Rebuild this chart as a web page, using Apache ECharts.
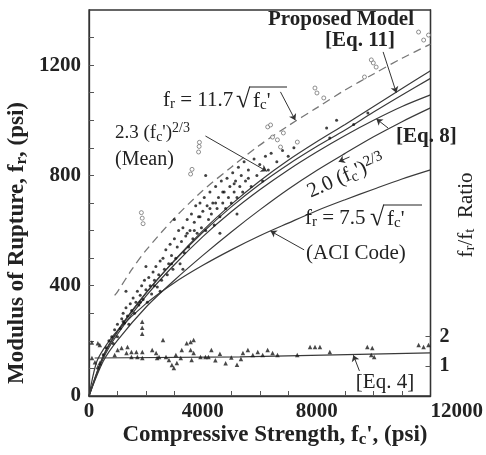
<!DOCTYPE html>
<html><head><meta charset="utf-8">
<script src="https://cdn.jsdelivr.net/npm/echarts@6/dist/echarts.min.js"></script>
<style>html,body{margin:0;padding:0;background:#fff}#c{width:486px;height:455px}</style>
</head><body><div id="c"></div>
<script>
// ---------- DATA ----------
const xTickLabels = [0, 4000, 8000, 12000];
const xMinorTicks = [1000,2000,3000,5000,6000,7000,9000,10000,11000];
const yTickLabels = [0, 400, 800, 1200];
const yMinorTicks = [100,200,300,500,600,700,900,1000,1100,1300];
const ratioTickLabels = [1, 2];

const curveFc   = [0, 500, 1000, 2000, 3000, 4000, 5000, 6000, 7000, 8000, 9000, 10000, 11000, 12000];
const meanCurve = [0, 142, 232, 372, 492, 600, 695, 780, 855, 922, 985, 1050, 1115, 1180];   // 2.3 (fc')^2/3
const eq11Curve = [0, 146, 236, 374, 490, 594, 686, 768, 840, 905, 965, 1030, 1092, 1152];   // Proposed model
const eq8Curve  = [0, 136, 224, 362, 476, 578, 668, 748, 820, 885, 945, 1000, 1050, 1092];   // Eq. 8
const twoCurve  = [0, 126, 202, 322, 420, 510, 595, 675, 750, 818, 880, 940, 995, 1045];     // 2.0 (fc')^2/3

const aciFc     = [0, 250, 500, 1000, 2000, 3000, 4000, 5000, 6000, 7000, 8000, 9000, 10000, 11000, 12000];
const aciCurve  = [0, 118, 168, 237, 335, 411, 474, 530, 581, 627, 672, 712, 750, 787, 820];

const dashFc    = [900, 1000, 1500, 2000, 3000, 4000, 5000, 6000, 7000, 8000, 9000, 10000, 11000, 12000];
const dashCurve = [365, 378, 458, 528, 645, 745, 830, 910, 980, 1045, 1110, 1168, 1225, 1276]; // 11.7 sqrt(fc')

const eq4Fc     = [200, 5300, 12000];
const eq4Ratio  = [1.28, 1.32, 1.45];

const dotPts = [
 [500,150],[600,175],[700,200],[800,215],[850,190],[900,240],[1000,260],[1000,215],[1100,245],[1150,280],
 [1200,300],[1250,265],[1300,320],[1350,290],[1400,260],[1450,335],[1500,310],[1300,380],
 [1550,355],[1600,300],[1650,340],[1700,380],[1750,330],[1800,365],[1850,400],[1900,350],[1950,420],[2000,385],
 [2050,340],[2100,430],[2150,400],[2200,370],[2250,450],[2300,420],[2350,470],[2400,395],[2450,440],[2500,490],[2000,470],
 [2550,420],[2600,500],[2650,460],[2700,530],[2750,440],[2800,480],[2850,550],[2900,510],[2950,460],[3000,570],
 [3050,500],[3100,540],[3150,600],[3200,480],[3250,560],[3300,610],[3350,520],[3400,580],[3450,640],[3500,540],[2500,380],[3300,460],[3000,640],
 [3550,600],[3600,660],[3650,570],[3700,630],[3750,690],[3800,590],[3850,650],[3900,700],[3950,610],[4000,670],
 [4050,720],[4100,600],[4150,690],[4200,640],[4250,740],[4300,660],[4350,700],[4400,620],[4450,760],[4500,680],[4100,800],
 [4550,720],[4600,650],[4650,780],[4700,700],[4750,740],[4800,680],[4850,790],[4900,720],[4950,760],[5000,700],
 [5050,810],[5100,740],[5150,780],[5200,720],[5250,830],[5300,760],[5350,800],[5400,740],[5450,850],[5500,780],[4600,590],[5200,660],
 [5600,820],[5700,760],[5800,860],[5900,800],[6000,840],[6100,780],[6200,870],[6300,820],[6400,880],[6600,850],[6800,890],[7000,870],
 [7200,900],[8350,972],[8460,936],[8700,1000],[9300,985],[9800,1026],
 [3450,590],[3700,600],[3900,650],[4250,680],[4450,700],[4700,740],[5100,770],[5600,790],[2900,480],[2300,400],[1800,340],[1200,270]
];
const circlePts = [
 [1870,645],[1900,625],[1840,665],[3570,805],[3620,822],[3850,885],[3870,905],[3880,920],
 [6280,976],[6380,983],[6450,939],[6620,929],[6730,903],[6830,954],[7320,921],
 [7940,1117],[8010,1099],[8250,1081],[9680,1157],[9920,1219],[9990,1208],[10090,1193],
 [11580,1320],[11760,1291],[11930,1309]
];
const ratioPts = [
 [100,1.8],[104,1.28],[208,1.14],[312,1.78],[381,1.72],[381,1.11],[312,0.98],[902,1.38],
 [1006,1.55],[1144,1.62],[1352,1.65],[1318,1.45],[1491,1.48],[1491,1.31],[1665,1.48],[1700,1.31],[1873,1.48],[1873,1.28],
 [1870,2.5],[1870,2.1],[1870,2.3],
 [2220,1.55],[2358,1.45],[2393,1.28],[2462,1.31],[2705,1.31],[2809,1.21],[2913,1.04],[2983,0.94],[3087,1.11],
 [3052,1.38],[3225,1.28],[3260,1.55],[3433,1.78],[3572,1.82],[3676,1.89],[3572,1.55],[3676,1.45],[3607,1.21],
 [3919,1.31],[4092,1.31],[4196,1.31],[4300,1.55],[2600,1.89],[4440,1.2],[4600,1.42],[4800,1.1],[5000,1.3],[5200,1.05],[5340,1.25],
 [5410,1.45],[5583,1.55],[5757,1.38],[5930,1.48],[6104,1.38],[6277,1.55],[6450,1.45],[6624,1.38],[7317,1.38],
 [7768,1.65],[7942,1.65],[8115,1.65],[8462,1.48],[9780,1.65],[9953,1.62],[9918,1.38],[10022,1.31],
 [11583,1.72],[11757,1.65],[11930,1.72]
];

// ---------- CHART ----------
const serif = '"Liberation Serif","Times New Roman",serif';
const ink = '#222';
const lineCol = '#3a3a3a';
const zip = (xs, ys) => xs.map((x, i) => [x, ys[i]]);

function rich(size, weight) {
  return {
    t:   {fontSize: size, fontFamily: serif, fontWeight: weight, fill: ink},
    sub: {fontSize: Math.round(size*0.72), fontFamily: serif, fontWeight: weight, fill: ink, padding: [9,0,0,0], lineHeight: size+4},
    sup: {fontSize: Math.round(size*0.72), fontFamily: serif, fontWeight: weight, fill: ink, padding: [0,0,9,0], lineHeight: size+4}
  };
}
function txt(x, y, text, size, weight, align, rot) {
  return {type: 'text', x: x, y: y, rotation: rot || 0, z: 100,
    style: {text: text, fontFamily: serif, fontSize: size, fontWeight: weight, fill: ink,
      align: align || 'left', verticalAlign: 'middle', rich: rich(size, weight)}};
}
function oline(x1, x2, y) {
  return {type: 'line', z: 100, shape: {x1: x1, y1: y, x2: x2, y2: y}, style: {stroke: ink, lineWidth: 1}};
}

const axisLabelBase = {fontFamily: serif, fontSize: 21, fontWeight: 'bold', color: ink, formatter: v => String(v)};

const leaders = [
  [[10335,1248],[10800,1100]],
  [[6728,1103],[7250,1000]],
  [[4092,943],[6250,815]],
  [[10508,972],[10100,1005]],
  [[9155,867],[8774,850]],
  [[7560,530],[6380,598]],
  [[9502,91],[9290,148]]
];

const chart = echarts.init(document.getElementById('c'));
chart.setOption({
  animation: false,
  backgroundColor: '#fff',
  grid: {left: 89, right: 51, top: 10, bottom: 59, show: true, borderColor: '#333', borderWidth: 1.3},
  xAxis: {
    type: 'value', min: 0, max: 12000,
    axisLine: {show: true, lineStyle: {color: '#333', width: 1.3}},
    axisTick: {show: true, inside: true, length: 5, customValues: xMinorTicks, lineStyle: {color: '#555'}},
    axisLabel: Object.assign({customValues: xTickLabels, margin: 5, alignMaxLabel: 'left'}, axisLabelBase),
    splitLine: {show: false}
  },
  yAxis: [{
    type: 'value', min: 0, max: 1400,
    axisLine: {show: true, lineStyle: {color: '#333', width: 1.3}},
    axisTick: {show: true, inside: true, length: 5, customValues: yMinorTicks.concat(yTickLabels.slice(1)), lineStyle: {color: '#555'}},
    axisLabel: Object.assign({customValues: yTickLabels, margin: 8}, axisLabelBase),
    splitLine: {show: false}
  }, {
    type: 'value', min: 0, max: 13, position: 'right',
    axisLine: {show: true, lineStyle: {color: '#333', width: 1.3}},
    axisTick: {show: true, inside: true, length: 5, customValues: ratioTickLabels, lineStyle: {color: '#555'}},
    axisLabel: Object.assign({customValues: ratioTickLabels, margin: 9}, axisLabelBase, {fontSize: 20}),
    splitLine: {show: false}
  }],
  series: [
    {type: 'line', data: zip(curveFc, meanCurve), showSymbol: false, smooth: 0.3, lineStyle: {color: lineCol, width: 1.2}, z: 3,
     markLine: {silent: true, symbol: ['none', 'arrow'], symbolSize: 6, label: {show: false},
       lineStyle: {color: '#333', width: 1, type: 'solid'},
       data: leaders.map(l => [{coord: l[0]}, {coord: l[1]}])}},
    {type: 'line', data: zip(curveFc, eq11Curve), showSymbol: false, smooth: 0.3, lineStyle: {color: lineCol, width: 1.2}, z: 3},
    {type: 'line', data: zip(curveFc, eq8Curve), showSymbol: false, smooth: 0.3, lineStyle: {color: lineCol, width: 1.2}, z: 3},
    {type: 'line', data: zip(curveFc, twoCurve), showSymbol: false, smooth: 0.3, lineStyle: {color: lineCol, width: 1.2}, z: 3},
    {type: 'line', data: zip(aciFc, aciCurve), showSymbol: false, smooth: 0.3, lineStyle: {color: lineCol, width: 1.2}, z: 3},
    {type: 'line', data: zip(dashFc, dashCurve), showSymbol: false, smooth: 0.3, lineStyle: {color: '#777', width: 1.3, type: [8, 5]}, z: 3},
    {type: 'line', yAxisIndex: 1, data: zip(eq4Fc, eq4Ratio), showSymbol: false, lineStyle: {color: lineCol, width: 1.2}, z: 3},
    {type: 'scatter', data: dotPts, symbol: 'circle', symbolSize: 3, itemStyle: {color: '#111'}, z: 4, silent: true},
    {type: 'scatter', data: circlePts, symbol: 'circle', symbolSize: 4, itemStyle: {color: '#fff', borderColor: '#666', borderWidth: 0.9}, z: 4, silent: true},
    {type: 'scatter', yAxisIndex: 1, data: ratioPts, symbol: 'triangle', symbolSize: 4.5, itemStyle: {color: '#1a1a1a'}, z: 4, silent: true}
  ],
  graphic: [
    txt(341, 20, 'Proposed Model', 21, 'bold', 'center'),
    txt(360, 41, '[Eq. 11]', 21, 'bold', 'center'),
    txt(163, 100, "{t|f}{sub|r}{t| = 11.7}", 21, 'normal', 'left'),
    txt(236, 100, '√', 26, 'normal', 'left'),
    txt(253, 101, "{t|f}{sub|c}{t|'}", 21, 'normal', 'left'),
    oline(249, 287, 87),
    txt(115, 133, "{t|2.3 (f}{sub|c}{t|')}{sup|2/3}", 19, 'normal', 'left'),
    txt(115, 160, '(Mean)', 20, 'normal', 'left'),
    txt(396, 137, '[Eq. 8]', 21, 'bold', 'left'),
    txt(346, 176, "{t|2.0 (f}{sub|c}{t|')}{sup|2/3}", 21, 'normal', 'center', 0.42),
    txt(305, 218, "{t|f}{sub|r}{t| = 7.5}", 21, 'normal', 'left'),
    txt(370, 218, '√', 26, 'normal', 'left'),
    txt(387, 219, "{t|f}{sub|c}{t|'}", 21, 'normal', 'left'),
    oline(383, 422, 205),
    txt(306, 253, '(ACI Code)', 21, 'normal', 'left'),
    txt(385, 382, '[Eq. 4]', 21, 'normal', 'center'),
    txt(466, 215, "{t|f}{sub|r}{t|/f}{sub|t}{t|  Ratio}", 21, 'normal', 'center', Math.PI/2),
    txt(17, 243, "{t|Modulus of Rupture, f}{sub|r}{t|, (psi)}", 23, 'bold', 'center', Math.PI/2),
    txt(275, 435, "{t|Compressive Strength, f}{sub|c}{t|', (psi)}", 23, 'bold', 'center')
  ]
});
</script>
</body></html>
